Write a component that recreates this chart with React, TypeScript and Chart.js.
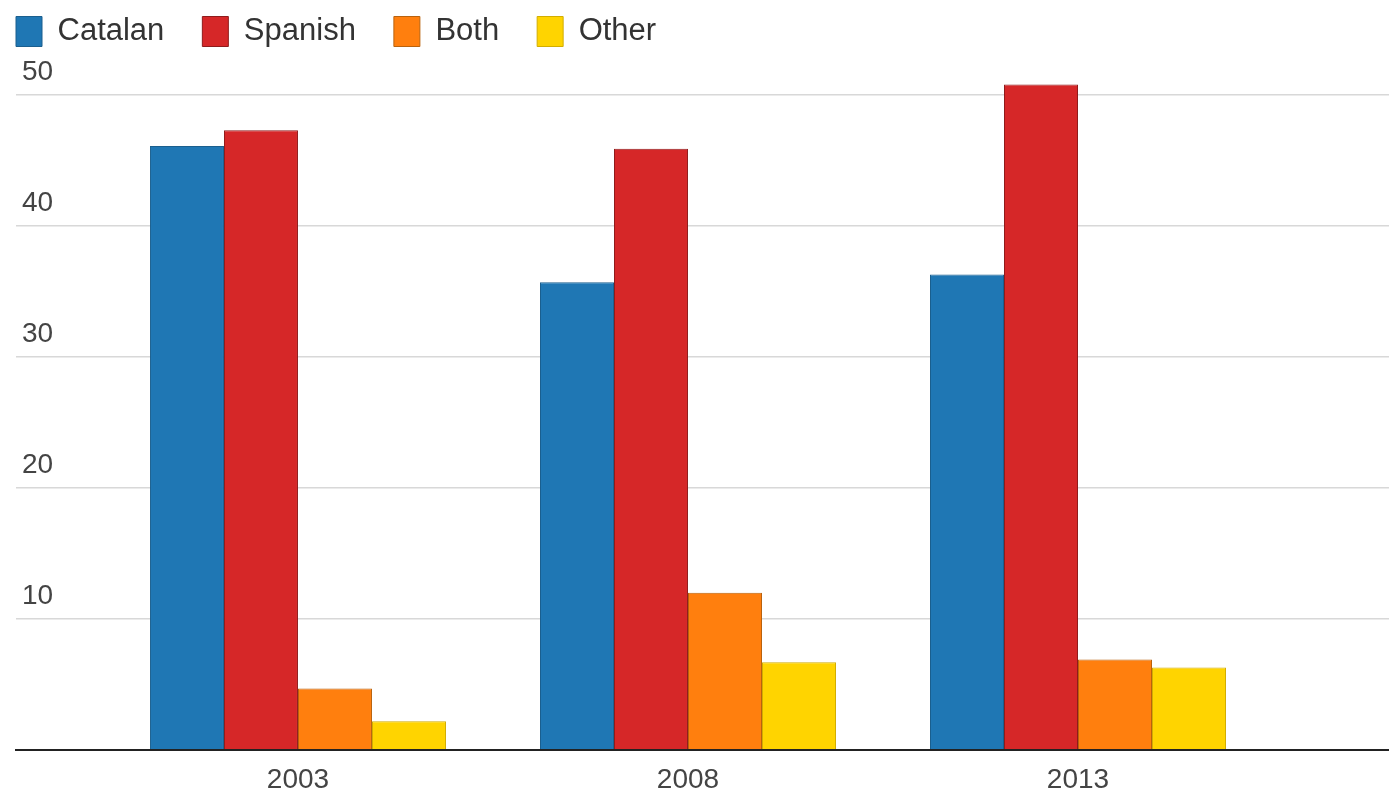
import React, { useEffect, useRef } from 'react';
import { Chart, registerables } from 'chart.js';

Chart.register(...registerables);

// ---- data ----
const categories = ['2003', '2008', '2013'];
const seriesNames = ['Catalan', 'Spanish', 'Both', 'Other'];
const catalan = [46.1, 35.7, 36.3];
const spanish = [47.3, 45.9, 50.8];
const both = [4.7, 12.0, 6.9];
const other = [2.2, 6.7, 6.3];
const yTickValues = [0, 10, 20, 30, 40, 50];

const seriesValues = [catalan, spanish, both, other];
const fillColors = ['#1f77b4', '#d62728', '#ff7f0e', '#ffd400'];
const edgeColors = ['#1b5f8e', '#8f1c1c', '#b9620d', '#d2ad00'];

const FONT = "Arial, 'Liberation Sans', sans-serif";

export default function App() {
  const canvasRef = useRef<HTMLCanvasElement | null>(null);

  useEffect(() => {
    const canvas = canvasRef.current;
    if (!canvas) return;

    const datasets = seriesNames.map((name, i) => ({
      label: name,
      data: categories.map((c, j) => ({ x: Number(c), y: seriesValues[i][j] })),
      backgroundColor: fillColors[i],
      borderColor: edgeColors[i],
      borderWidth: 1,
      categoryPercentage: 0.759,
      barPercentage: 1.0,
      clip: false,
    }));

    const chart = new Chart(canvas, {
      type: 'bar',
      data: { datasets },
      options: {
        animation: false,
        responsive: true,
        maintainAspectRatio: false,
        events: [],
        layout: { padding: { left: -22, top: -22, right: 0, bottom: 0 } },
        plugins: {
          legend: {
            position: 'top',
            align: 'start',
            labels: {
              boxWidth: 26,
              boxHeight: 30,
              padding: 38,
              color: '#333333',
              font: { family: FONT, size: 31 },
            },
          },
          title: {
            display: true,
            text: '',
            weight: 500,
            padding: { top: 0, bottom: 26 },
            font: { size: 10 },
          },
          tooltip: { enabled: false },
        },
        scales: {
          x: {
            type: 'linear',
            min: 1999.385,
            max: 2016.987,
            offset: false,
            bounds: 'data',
            grid: { display: false },
            border: { display: true, color: '#222222', width: 2 },
            afterBuildTicks: (scale: any) => {
              scale.ticks = categories.map((c) => ({ value: Number(c) }));
            },
            afterFit: (scale: any) => {
              scale.height = 47;
            },
            ticks: {
              autoSkip: false,
              maxRotation: 0,
              padding: 5,
              color: '#444444',
              font: { family: FONT, size: 28 },
              callback: (v: any) => String(v),
            },
          },
          y: {
            min: 0,
            max: 50,
            afterBuildTicks: (scale: any) => {
              scale.ticks = yTickValues.map((v) => ({ value: v }));
            },
            afterFit: (scale: any) => {
              scale.width = 38;
            },
            border: { display: false },
            grid: {
              drawTicks: false,
              color: (ctx: any) => (ctx.tick && ctx.tick.value === 0 ? '#222222' : '#d8d8d8'),
              lineWidth: (ctx: any) => (ctx.tick && ctx.tick.value === 0 ? 2 : 1.5),
            },
            ticks: {
              mirror: true,
              padding: 6,
              labelOffset: -23,
              color: '#444444',
              font: { family: FONT, size: 28 },
              callback: (v: any) => (Number(v) === 0 ? '' : String(v)),
            },
          },
        },
      } as any,
    });

    return () => chart.destroy();
  }, []);

  return (
    <div style={{ position: 'fixed', left: 0, top: 0, width: 1389, height: 797, background: '#ffffff' }}>
      <canvas ref={canvasRef} />
    </div>
  );
}
